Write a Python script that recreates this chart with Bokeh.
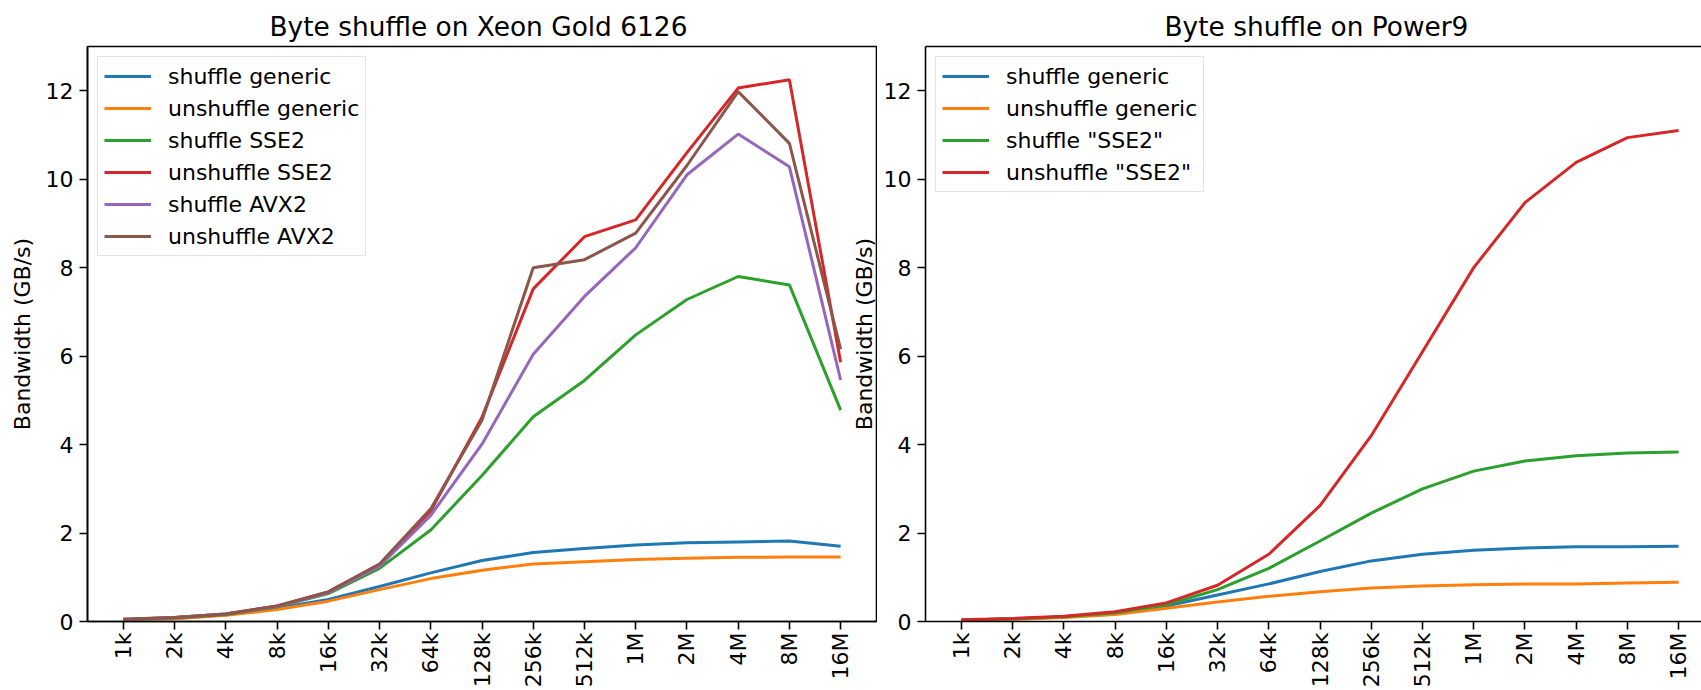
from math import pi

from bokeh.plotting import figure
from bokeh.layouts import row
from bokeh.models import Range1d, FixedTicker, Legend, LegendItem, Label, LinearAxis
from bokeh.embed import file_html
from bokeh.resources import INLINE

# Buffer sizes on the x axis
sizes = ["1k", "2k", "4k", "8k", "16k", "32k", "64k", "128k", "256k",
         "512k", "1M", "2M", "4M", "8M", "16M"]
y_ticks = [0, 2, 4, 6, 8, 10, 12]

# Bandwidth in GB/s, Xeon Gold 6126
xeon_shuffle_generic = [0.03, 0.07, 0.15, 0.30, 0.50, 0.79, 1.10, 1.38, 1.56, 1.65, 1.73, 1.78, 1.80, 1.82, 1.70]
xeon_unshuffle_generic = [0.03, 0.06, 0.14, 0.27, 0.46, 0.72, 0.97, 1.16, 1.30, 1.35, 1.40, 1.43, 1.45, 1.46, 1.46]
xeon_shuffle_sse2 = [0.04, 0.08, 0.16, 0.33, 0.63, 1.20, 2.07, 3.30, 4.63, 5.45, 6.48, 7.28, 7.80, 7.61, 4.78]
xeon_unshuffle_sse2 = [0.05, 0.09, 0.17, 0.35, 0.67, 1.29, 2.50, 4.62, 7.52, 8.70, 9.08, 10.60, 12.06, 12.25, 5.86]
xeon_shuffle_avx2 = [0.04, 0.09, 0.17, 0.34, 0.65, 1.25, 2.40, 4.01, 6.04, 7.35, 8.45, 10.10, 11.02, 10.28, 5.46]
xeon_unshuffle_avx2 = [0.05, 0.09, 0.17, 0.35, 0.67, 1.30, 2.55, 4.55, 8.00, 8.18, 8.78, 10.31, 11.98, 10.81, 6.16]

# Bandwidth in GB/s, Power9
p9_shuffle_generic = [0.03, 0.06, 0.10, 0.18, 0.35, 0.60, 0.85, 1.13, 1.37, 1.52, 1.61, 1.66, 1.69, 1.69, 1.70]
p9_unshuffle_generic = [0.02, 0.05, 0.09, 0.16, 0.30, 0.44, 0.57, 0.67, 0.76, 0.80, 0.83, 0.85, 0.85, 0.87, 0.89]
p9_shuffle_sse2 = [0.03, 0.06, 0.11, 0.20, 0.38, 0.72, 1.20, 1.82, 2.45, 3.00, 3.40, 3.63, 3.75, 3.81, 3.83]
p9_unshuffle_sse2 = [0.04, 0.07, 0.12, 0.22, 0.42, 0.82, 1.52, 2.62, 4.20, 6.10, 8.00, 9.47, 10.38, 10.94, 11.10]

xeon_series = [
    ("shuffle generic", xeon_shuffle_generic),
    ("unshuffle generic", xeon_unshuffle_generic),
    ("shuffle SSE2", xeon_shuffle_sse2),
    ("unshuffle SSE2", xeon_unshuffle_sse2),
    ("shuffle AVX2", xeon_shuffle_avx2),
    ("unshuffle AVX2", xeon_unshuffle_avx2),
]
p9_series = [
    ("shuffle generic", p9_shuffle_generic),
    ("unshuffle generic", p9_unshuffle_generic),
    ('shuffle "SSE2"', p9_shuffle_sse2),
    ('unshuffle "SSE2"', p9_unshuffle_sse2),
]

COLORS = ["#1f77b4", "#ff7f0e", "#2ca02c", "#d62728", "#9467bd", "#8c564b"]
FONT = "DejaVu Sans"

# Page geometry (pixels)
W, H = 1701, 690
FRAME_T, FRAME_B = 46, 621
LEFT_FRAME_L, LEFT_FRAME_R = 87, 876
RIGHT_FRAME_L = 925
LEFT_W = LEFT_FRAME_R + 1
RIGHT_W = W - LEFT_W

X_START = -0.7
X_SPAN = 15.4
PPU = (LEFT_FRAME_R - LEFT_FRAME_L) / X_SPAN
Y_END = 13.0

idx = list(range(len(sizes)))


def style(p):
    p.xgrid.visible = False
    p.ygrid.visible = False
    p.background_fill_color = "white"
    p.border_fill_color = "white"
    for ax in (p.xaxis[0], p.yaxis[0]):
        ax.axis_line_color = "black"
        ax.axis_line_width = 1.6
        ax.major_tick_in = 0
        ax.major_tick_out = 8
        ax.major_tick_line_width = 1.6
        ax.major_tick_line_color = "black"
        ax.minor_tick_line_color = None
        ax.major_label_text_font = FONT
        ax.major_label_text_font_size = "22px"
        ax.major_label_text_color = "black"
    p.yaxis.major_label_standoff = 6
    p.xaxis.major_label_standoff = 3
    p.xaxis.ticker = FixedTicker(ticks=idx)
    p.xaxis.major_label_overrides = {i: s for i, s in enumerate(sizes)}
    p.xaxis.major_label_orientation = pi / 2
    p.yaxis.ticker = FixedTicker(ticks=y_ticks)
    p.title.text_font = FONT
    p.title.text_font_size = "26.4px"
    p.title.text_font_style = "normal"
    p.title.text_color = "black"
    p.title.align = "left"


def add_lines(p, series):
    items = []
    for (name, vals), color in zip(series, COLORS):
        r = p.line(x=idx, y=vals, line_color=color, line_width=3)
        items.append(LegendItem(label=name, renderers=[r]))
    legend = Legend(
        items=items, location="top_left", margin=10, padding=6, spacing=6,
        glyph_width=47, glyph_height=26, label_height=26, label_standoff=17,
        label_text_font=FONT, label_text_font_size="22px", label_text_color="black",
        border_line_color="#cccccc", border_line_width=1.6,
        background_fill_color="white", background_fill_alpha=0.8,
    )
    p.add_layout(legend)


# Left panel: Xeon
p1 = figure(
    width=LEFT_W, height=H, output_backend="svg", toolbar_location=None,
    x_range=Range1d(X_START, X_START + X_SPAN), y_range=Range1d(0, Y_END),
    min_border_left=LEFT_FRAME_L, min_border_right=1,
    min_border_top=FRAME_T, min_border_bottom=H - FRAME_B,
    title="Byte shuffle on Xeon Gold 6126",
)
style(p1)
p1.outline_line_color = "black"
p1.outline_line_width = 1.6
p1.title.offset = 182
p1.yaxis.axis_label = "Bandwidth (GB/s)"
p1.yaxis.axis_label_text_font = FONT
p1.yaxis.axis_label_text_font_size = "22px"
p1.yaxis.axis_label_text_font_style = "normal"
p1.yaxis.axis_label_text_color = "black"
p1.yaxis.axis_label_standoff = 8
add_lines(p1, xeon_series)

# y label of the Power9 panel sits just left of the gap between panels
p1.add_layout(Label(
    x=X_START + (RIGHT_FRAME_L - 61 - LEFT_FRAME_L) / PPU, y=6.5,
    text="Bandwidth (GB/s)", angle=pi / 2,
    text_align="center", text_baseline="alphabetic",
    text_font=FONT, text_font_size="22px", text_color="black",
))

# Right panel: Power9 (frame runs off the right edge)
p2 = figure(
    width=RIGHT_W, height=H, output_backend="svg", toolbar_location=None,
    x_range=Range1d(X_START, X_START + (W - RIGHT_FRAME_L) / PPU), y_range=Range1d(0, Y_END),
    min_border_left=RIGHT_FRAME_L - LEFT_W, min_border_right=0,
    min_border_top=FRAME_T, min_border_bottom=H - FRAME_B,
    title="Byte shuffle on Power9",
)
style(p2)
p2.outline_line_color = None
p2.title.offset = 239
top_spine = LinearAxis(
    ticker=FixedTicker(ticks=[]), axis_line_color="black", axis_line_width=1.6,
    major_tick_line_color=None, minor_tick_line_color=None,
    major_label_text_font_size="0px",
)
p2.add_layout(top_spine, "above")
add_lines(p2, p9_series)

layout = row(p1, p2)
open("out.html", "w").write(file_html(layout, INLINE))
